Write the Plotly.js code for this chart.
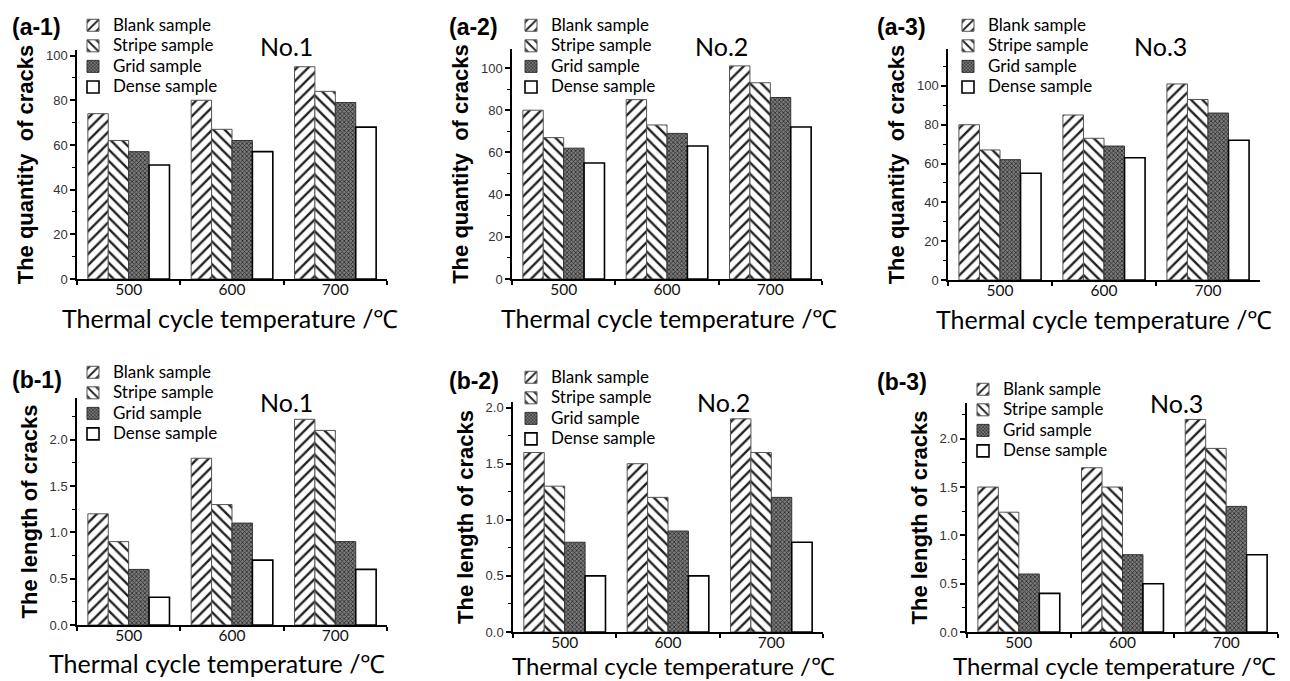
<!DOCTYPE html>
<html>
<head>
<meta charset="utf-8">
<script src="https://cdn.plot.ly/plotly-3.0.1.min.js"></script>
<style>html,body{margin:0;padding:0;background:#fff;}#chart{width:1290px;height:681px;}</style>
</head>
<body>
<div id="chart"></div>
<script>
// ---- data ----
const temperatures = ['500', '600', '700'];
const seriesNames = ['Blank sample', 'Stripe sample', 'Grid sample', 'Dense sample'];
const panelLabels = ['(a-1)', '(a-2)', '(a-3)', '(b-1)', '(b-2)', '(b-3)'];
const sampleLabels = ['No.1', 'No.2', 'No.3', 'No.1', 'No.2', 'No.3'];
const xTitle = 'Thermal cycle temperature /℃';
const yTitleQuantity = 'The quantity  of cracks';
const yTitleLength = 'The length of cracks';

// quantity of cracks (a-1 .. a-3)
const quantityNo1Blank = [74, 80, 95];
const quantityNo1Stripe = [62, 67, 84];
const quantityNo1Grid = [57, 62, 79];
const quantityNo1Dense = [51, 57, 68];

const quantityNo2Blank = [80, 85, 101];
const quantityNo2Stripe = [67, 73, 93];
const quantityNo2Grid = [62, 69, 86];
const quantityNo2Dense = [55, 63, 72];

const quantityNo3Blank = [80, 85, 101];
const quantityNo3Stripe = [67, 73, 93];
const quantityNo3Grid = [62, 69, 86];
const quantityNo3Dense = [55, 63, 72];

// length of cracks (b-1 .. b-3)
const lengthNo1Blank = [1.2, 1.8, 2.22];
const lengthNo1Stripe = [0.9, 1.3, 2.1];
const lengthNo1Grid = [0.6, 1.1, 0.9];
const lengthNo1Dense = [0.3, 0.7, 0.6];

const lengthNo2Blank = [1.6, 1.5, 1.9];
const lengthNo2Stripe = [1.3, 1.2, 1.6];
const lengthNo2Grid = [0.8, 0.9, 1.2];
const lengthNo2Dense = [0.5, 0.5, 0.8];

const lengthNo3Blank = [1.5, 1.7, 2.2];
const lengthNo3Stripe = [1.24, 1.5, 1.9];
const lengthNo3Grid = [0.6, 0.8, 1.3];
const lengthNo3Dense = [0.4, 0.5, 0.8];

const panelData = [
  [quantityNo1Blank, quantityNo1Stripe, quantityNo1Grid, quantityNo1Dense],
  [quantityNo2Blank, quantityNo2Stripe, quantityNo2Grid, quantityNo2Dense],
  [quantityNo3Blank, quantityNo3Stripe, quantityNo3Grid, quantityNo3Dense],
  [lengthNo1Blank, lengthNo1Stripe, lengthNo1Grid, lengthNo1Dense],
  [lengthNo2Blank, lengthNo2Stripe, lengthNo2Grid, lengthNo2Dense],
  [lengthNo3Blank, lengthNo3Stripe, lengthNo3Grid, lengthNo3Dense]
];

// ---- styling / layout (not data) ----
const W = 1290, H = 681;
const px2x = v => v / W;
const px2y = v => 1 - v / H;
const HUMAN = 'Lato, "Open Sans", sans-serif';

// axis boxes in pixels: [left, right, top, bottom]
const boxes = [
  [77, 387, 50, 279],
  [512, 822, 49, 279],
  [948, 1260, 49, 280],
  [77, 387, 398, 625],
  [513, 823, 402, 632],
  [967, 1278, 403, 632]
];
const yRanges = [[0, 102.5], [0, 109], [0, 119], [0, 2.45], [0, 2.05], [0, 2.37]];
const yDticks = [20, 20, 20, 0.5, 0.5, 0.5];
const legendPos = [[73, 10], [511, 10], [948, 10], [73, 357], [511, 362], [963, 374]];
const panelLabelPos = [[10, 27], [447, 27], [875, 27], [10, 380], [447, 381], [875, 382]];
const sampleLabelPos = [[258, 46], [693, 46], [1132, 46], [258, 402], [695, 402], [1148, 403]];
const xTitlePos = [[230, 334], [669, 334], [1104, 335], [217, 679], [674, 681], [1114, 681]];
const xTitleSizes = [25, 25, 25, 25, 24, 24];

const markerStyles = [
  {color: '#ffffff', line: {color: '#555', width: 1},
   pattern: {shape: '/', fgcolor: '#222', bgcolor: '#ffffff', size: 8, solidity: 0.3}},
  {color: '#ffffff', line: {color: '#555', width: 1},
   pattern: {shape: '\\', fgcolor: '#222', bgcolor: '#ffffff', size: 8, solidity: 0.3}},
  {color: '#555', line: {color: '#333', width: 1},
   pattern: {shape: 'x', fgcolor: '#2a2a2a', bgcolor: '#7a7a7a', size: 3, solidity: 0.45}},
  {color: '#ffffff', line: {color: '#000', width: 1.6}}
];

const traces = [];
const layout = {
  width: W, height: H,
  margin: {l: 0, r: 0, t: 0, b: 0},
  paper_bgcolor: '#fff', plot_bgcolor: '#fff',
  barmode: 'group', bargap: 0.21, bargroupgap: 0,
  showlegend: true,
  annotations: []
};

panelData.forEach((series, p) => {
  const idx = p === 0 ? '' : String(p + 1);
  const legendId = 'legend' + idx;
  series.forEach((vals, s) => {
    traces.push({
      type: 'bar',
      x: temperatures,
      y: vals,
      name: '<span style="font-size:17px">' + seriesNames[s] + '</span>',
      xaxis: 'x' + idx,
      yaxis: 'y' + idx,
      legend: legendId,
      marker: markerStyles[s],
      hovertemplate: seriesNames[s] + ': %{y}<extra></extra>'
    });
  });
  const b = boxes[p];
  layout['xaxis' + idx] = {
    domain: [px2x(b[0]), px2x(b[1])],
    anchor: 'y' + idx,
    type: 'category',
    range: [-0.5, 2.5],
    showline: true, linecolor: '#000', linewidth: 1.5,
    ticks: 'outside', tickson: 'boundaries', ticklen: 4, tickwidth: 1.5, tickcolor: '#000',
    ticklabelstandoff: -4,
    showgrid: false, zeroline: false,
    tickfont: {family: HUMAN, size: 15.5, color: '#111'},
    automargin: false
  };
  layout['yaxis' + idx] = {
    domain: [px2y(b[3]), px2y(b[2])],
    anchor: 'x' + idx,
    range: yRanges[p],
    dtick: yDticks[p],
    tick0: 0,
    tickformat: p < 3 ? 'd' : '.1f',
    showline: true, linecolor: '#000', linewidth: 1.5,
    ticks: 'outside', ticklen: 5, tickwidth: 1.5, tickcolor: '#000',
    minor: {ticks: 'outside', dtick: yDticks[p] / 2, ticklen: 3, tickwidth: 1, tickcolor: '#000'},
    showgrid: false, zeroline: false,
    tickfont: {family: 'Liberation Sans', size: 13, color: '#333'},
    title: {text: '<b>' + (p < 3 ? yTitleQuantity : yTitleLength) + '</b>', standoff: 6,
            font: {family: 'Liberation Sans', size: 22, color: '#000'}},
    automargin: false
  };
  layout[legendId] = {
    x: px2x(legendPos[p][0]), y: px2y(legendPos[p][1]),
    xanchor: 'left', yanchor: 'top',
    bgcolor: 'rgba(0,0,0,0)', borderwidth: 0,
    font: {family: HUMAN, size: 13.5, color: '#000'},
    traceorder: 'normal'
  };
  layout.annotations.push({
    xref: 'paper', yref: 'paper', showarrow: false,
    x: px2x(panelLabelPos[p][0]), y: px2y(panelLabelPos[p][1]),
    xanchor: 'left', yanchor: 'middle',
    text: '<b>' + panelLabels[p] + '</b>',
    font: {family: 'Liberation Sans', size: 23, color: '#000'}
  });
  layout.annotations.push({
    xref: 'paper', yref: 'paper', showarrow: false,
    x: px2x(sampleLabelPos[p][0]), y: px2y(sampleLabelPos[p][1]),
    xanchor: 'left', yanchor: 'middle',
    text: sampleLabels[p],
    font: {family: HUMAN, size: 25, color: '#000'}
  });
  layout.annotations.push({
    xref: 'paper', yref: 'paper', showarrow: false,
    x: px2x(xTitlePos[p][0]), y: px2y(xTitlePos[p][1]),
    xanchor: 'center', yanchor: 'bottom', borderpad: 0,
    text: xTitle,
    font: {family: HUMAN, size: xTitleSizes[p], color: '#000'}
  });
});

Plotly.newPlot('chart', traces, layout, {displayModeBar: false, responsive: false});
</script>
</body>
</html>
